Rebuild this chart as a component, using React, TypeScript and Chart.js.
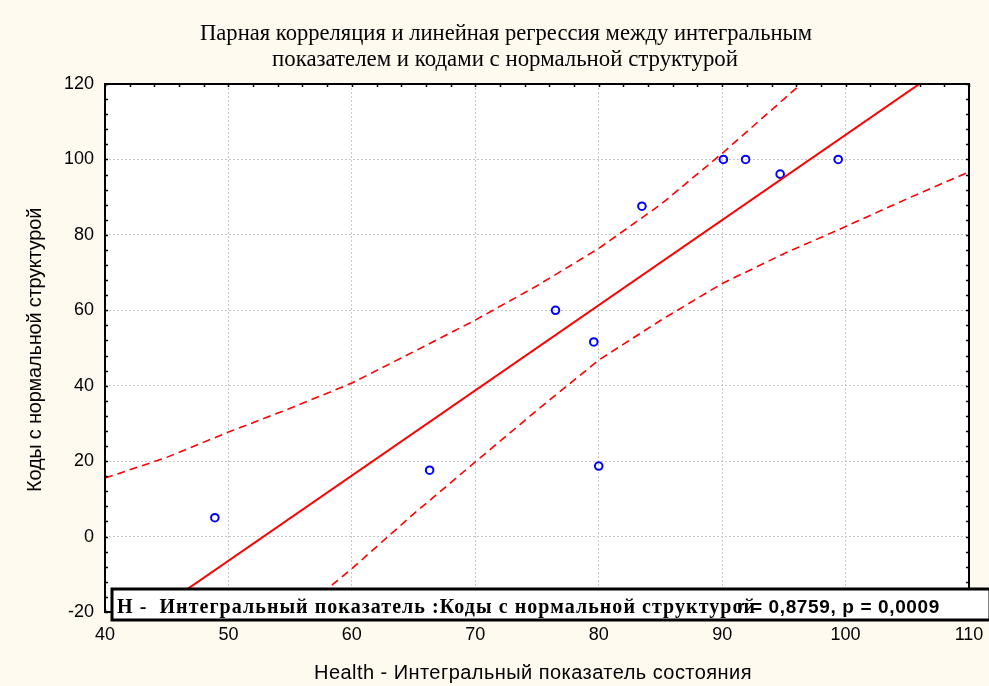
import React, { useEffect, useRef } from "react";
import { Chart, registerables } from "chart.js";

Chart.register(...registerables);

// ---- text ----
const titleLines = [
  "Парная корреляция и линейная регрессия между интегральным",
  "показателем и кодами с нормальной структурой",
];
const xAxisTitle = "Health - Интегральный показатель состояния";
const yAxisTitle = "Коды с нормальной структурой";
const legendLabel = "H -  Интегральный показатель :Коды с нормальной структурой";
const statsLabel = "r = 0,8759, p = 0,0009";

// ---- data ----
const healthX = [48.9, 66.3, 76.5, 79.6, 80.0, 83.5, 90.1, 91.9, 94.7, 99.4];
const codesY = [5.0, 17.6, 60.0, 51.6, 18.7, 87.6, 100.0, 100.0, 96.1, 100.0];

const fitX = [40, 110];
const fitY = [-29.0, 129.1];

const upperX = [40, 45, 50, 55, 60, 65, 70, 75, 80, 85, 90, 95, 100];
const upperY = [15.5, 21.0, 27.7, 34.0, 40.7, 49.0, 57.4, 66.5, 76.4, 88.0, 101.6, 116.0, 130.5];

const lowerX = [50, 55, 60, 65, 70, 75, 80, 85, 90, 95, 100, 105, 110];
const lowerY = [-39.0, -22.0, -8.5, 6.0, 19.8, 33.5, 46.8, 57.3, 67.1, 75.0, 82.2, 89.6, 96.7];

const xMin = 40, xMax = 110, xStep = 10, xMinorStep = 2;
const yMin = -20, yMax = 120, yStep = 20, yMinorStep = 4;

const W = 989, H = 686;

function drawSpaced(ctx: CanvasRenderingContext2D, text: string, x: number, y: number, target: number, align: "left" | "center" = "left") {
  ctx.letterSpacing = "0px";
  const w = ctx.measureText(text).width;
  const n = [...text].length;
  const sp = (target - w) / n;
  ctx.letterSpacing = sp.toFixed(2) + "px";
  ctx.textAlign = "left";
  const x0 = align === "center" ? x - target / 2 : x;
  ctx.fillText(text, x0, y);
  ctx.letterSpacing = "0px";
}

function drawStretched(ctx: CanvasRenderingContext2D, text: string, cx: number, y: number, target: number) {
  const w = ctx.measureText(text).width;
  const sx = target / w;
  ctx.save();
  ctx.translate(cx, y);
  ctx.scale(sx, 1);
  ctx.textAlign = "center";
  ctx.fillText(text, 0, 0);
  ctx.restore();
}

const decor = {
  id: "decor",
  beforeDraw(chart: any) {
    const { ctx, chartArea: a } = chart;
    ctx.save();
    ctx.fillStyle = "#fffaf0";
    ctx.fillRect(0, 0, chart.width, chart.height);
    ctx.fillStyle = "#ffffff";
    ctx.fillRect(a.left, a.top, a.right - a.left, a.bottom - a.top);
    ctx.restore();
  },
  afterDraw(chart: any) {
    const { ctx, chartArea: a } = chart;
    const xs = chart.scales.x;
    const ys = chart.scales.y;
    ctx.save();
    // minor ticks inside
    ctx.strokeStyle = "#000";
    ctx.lineWidth = 1.5;
    ctx.beginPath();
    for (let v = xMin; v <= xMax + 1e-9; v += xMinorStep) {
      const px = Math.round(xs.getPixelForValue(v)) + 0.5;
      ctx.moveTo(px, a.top);
      ctx.lineTo(px, a.top + 3);
      ctx.moveTo(px, a.bottom);
      ctx.lineTo(px, a.bottom - 3);
    }
    for (let v = yMin; v <= yMax + 1e-9; v += yMinorStep) {
      const py = Math.round(ys.getPixelForValue(v)) + 0.5;
      ctx.moveTo(a.left, py);
      ctx.lineTo(a.left + 3, py);
      ctx.moveTo(a.right, py);
      ctx.lineTo(a.right - 3, py);
    }
    ctx.stroke();
    // frame
    ctx.lineWidth = 2;
    ctx.strokeRect(a.left, a.top, a.right - a.left, a.bottom - a.top);

    // legend box
    const bx = 112, by = 589, bw = 878, bh = 31;
    ctx.fillStyle = "#ffffff";
    ctx.fillRect(bx, by, bw, bh);
    ctx.lineWidth = 3;
    ctx.strokeStyle = "#000";
    ctx.strokeRect(bx, by, bw, bh);
    ctx.fillStyle = "#000";
    ctx.textBaseline = "alphabetic";
    ctx.font = 'bold 20px "Liberation Serif"';
    drawSpaced(ctx, legendLabel, 117, 613, 639);
    ctx.font = 'bold 19px "Liberation Sans"';
    drawSpaced(ctx, statsLabel, 737, 613, 203);

    // axis titles
    ctx.font = '20px "Liberation Sans"';
    ctx.textBaseline = "middle";
    drawSpaced(ctx, xAxisTitle, 533, 673, 438, "center");
    ctx.save();
    ctx.translate(35, 350);
    ctx.rotate(-Math.PI / 2);
    drawSpaced(ctx, yAxisTitle, 0, 0, 284, "center");
    ctx.restore();

    // title
    ctx.textBaseline = "alphabetic";
    ctx.font = '24px "Liberation Serif"';
    ctx.fillStyle = "#000";
    drawStretched(ctx, titleLines[0], 506, 40, 612);
    drawStretched(ctx, titleLines[1], 505, 66, 466);
    ctx.restore();
  },
};

export default function App() {
  const ref = useRef<HTMLCanvasElement | null>(null);
  useEffect(() => {
    if (!ref.current) return;
    const toPts = (xs: number[], ys: number[]) => xs.map((x, i) => ({ x, y: ys[i] }));
    const chart = new Chart(ref.current, {
      type: "scatter",
      data: {
        datasets: [
          {
            label: "upper",
            type: "line",
            data: toPts(upperX, upperY),
            borderColor: "#ff0000",
            borderWidth: 1.6,
            borderDash: [8, 5],
            pointRadius: 0,
            fill: false,
            tension: 0,
          },
          {
            label: "lower",
            type: "line",
            data: toPts(lowerX, lowerY),
            borderColor: "#ff0000",
            borderWidth: 1.6,
            borderDash: [8, 5],
            pointRadius: 0,
            fill: false,
            tension: 0,
          },
          {
            label: "fit",
            type: "line",
            data: toPts(fitX, fitY),
            borderColor: "#ff0000",
            borderWidth: 2,
            pointRadius: 0,
            fill: false,
          },
          {
            label: "points",
            data: toPts(healthX, codesY),
            pointStyle: "circle",
            pointRadius: 3.8,
            pointBorderWidth: 2,
            pointBorderColor: "#0000ff",
            pointBackgroundColor: "rgba(0,0,0,0)",
            borderColor: "#0000ff",
            backgroundColor: "rgba(0,0,0,0)",
          },
        ],
      },
      options: {
        animation: false,
        responsive: false,
        devicePixelRatio: 1,
        layout: { padding: { left: 0, top: 84, right: 20, bottom: 0 } },
        plugins: {
          legend: { display: false },
          tooltip: { enabled: false },
          title: { display: false },
        },
        scales: {
          x: {
            type: "linear",
            min: xMin,
            max: xMax,
            afterFit: (s: any) => { s.height = 74; s.paddingLeft = 0; s.paddingRight = 0; },
            afterBuildTicks: (s: any) => {
              const t = [];
              for (let v = xMin; v <= xMax; v += xStep) t.push({ value: v });
              s.ticks = t;
            },
            ticks: {
              color: "#000",
              font: { family: "Liberation Sans", size: 18 },
              padding: 12,
              maxRotation: 0,
            },
            grid: {
              color: "#c8c8c8",
              lineWidth: 1,
              drawTicks: false,
            },
            border: { display: false, dash: [2, 2] },
            title: { display: false },
          },
          y: {
            type: "linear",
            min: yMin,
            max: yMax,
            afterFit: (s: any) => { s.width = 105; s.paddingTop = 0; s.paddingBottom = 0; },
            afterBuildTicks: (s: any) => {
              const t = [];
              for (let v = yMin; v <= yMax; v += yStep) t.push({ value: v });
              s.ticks = t;
            },
            ticks: {
              color: "#000",
              font: { family: "Liberation Sans", size: 18 },
              padding: 11,
            },
            grid: {
              color: "#c8c8c8",
              lineWidth: 1,
              drawTicks: false,
            },
            border: { display: false, dash: [2, 2] },
            title: { display: false },
          },
        },
      },
      plugins: [decor],
    });
    return () => chart.destroy();
  }, []);
  return (
    <div style={{ position: "fixed", left: 0, top: 0, width: W, height: H }}>
      <canvas ref={ref} width={W} height={H} style={{ display: "block", width: W, height: H }} />
    </div>
  );
}
